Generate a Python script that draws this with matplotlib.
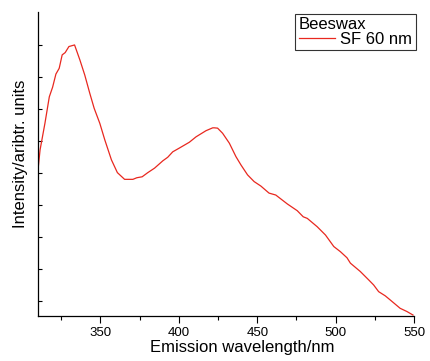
import matplotlib
matplotlib.use("Agg")
import matplotlib.pyplot as plt
import numpy as np

# emission spectrum
wavelength = [310, 311.5, 314.6, 317.4, 319.5, 321.6, 323.7, 325.6, 327.5, 329.9,
              333.5, 336.9, 340.0, 343.2, 346.0, 349.6, 352.8, 357.0, 360.8, 365.4,
              370.7, 373.2, 376.6, 380.2, 384.5, 389.8, 392.9, 396.1, 400.4, 406.7,
              411.0, 417.3, 421.6, 422.6, 424.7, 427.9, 432.2, 436.4, 439.6, 443.8,
              448.0, 452.3, 457.5, 461.8, 469.2, 475.5, 479.3, 481.9, 488.2, 493.5,
              498.8, 503.0, 507.2, 509.4, 515.7, 521.0, 524.2, 527.4, 531.6, 534.8,
              541.1, 545.4, 549.3]
intensity = [4.01, 4.72, 5.55, 6.38, 6.68, 7.09, 7.27, 7.69, 7.76, 7.95,
             8.00, 7.53, 7.06, 6.49, 6.02, 5.55, 5.03, 4.41, 4.01, 3.80,
             3.80, 3.85, 3.88, 4.01, 4.15, 4.38, 4.49, 4.66, 4.78, 4.96,
             5.13, 5.32, 5.41, 5.41, 5.40, 5.24, 4.93, 4.51, 4.25, 3.94,
             3.73, 3.59, 3.37, 3.31, 3.03, 2.82, 2.63, 2.58, 2.32, 2.06,
             1.70, 1.54, 1.35, 1.18, 0.92, 0.66, 0.50, 0.29, 0.16, 0.03,
             -0.23, -0.33, -0.44]
x_ticks = [350, 400, 450, 500, 550]

plt.rcParams["font.family"] = ["Liberation Sans", "DejaVu Sans"]

fig = plt.figure(figsize=(4.30, 3.61), dpi=100)
ax = fig.add_axes([0.0877, 0.1247, 0.8753, 0.8421])

ax.plot(wavelength, intensity, color="#e8281f", lw=0.9, label="SF 60 nm")

ax.set_xlim(310, 550)
ax.set_ylim(-0.47, 9.03)
ax.set_xticks(x_ticks)
ax.set_xticks([325, 375, 425, 475, 525], minor=True)
ax.set_yticks(range(0, 9))
ax.set_yticklabels([])
ax.tick_params(axis="x", direction="out", length=5, width=0.8, labelsize=9.5, pad=3)
ax.tick_params(axis="x", which="minor", direction="out", length=3, width=0.8)
ax.tick_params(axis="y", direction="in", length=3, width=0.8)
for s in ["top", "right"]:
    ax.spines[s].set_visible(False)
for s in ["left", "bottom"]:
    ax.spines[s].set_linewidth(0.9)

ax.set_xlabel("Emission wavelength/nm", fontsize=12)
ax.xaxis.set_label_coords(0.543, -0.078)
ax.set_ylabel("Intensity/aribtr. units", fontsize=12)
ax.yaxis.set_label_coords(-0.025, 0.533)

leg = ax.legend(title="Beeswax", loc="upper right", bbox_to_anchor=(1.004, 0.995),
                fontsize=12, title_fontsize=12, frameon=True, fancybox=False,
                borderpad=0.2, handlelength=2.2, handletextpad=0.3,
                borderaxespad=0.0, labelspacing=0.0)
leg._legend_box.align = "left"
leg.get_frame().set_edgecolor("black")
leg.get_frame().set_linewidth(0.8)

fig.savefig("out.png", dpi=100)
